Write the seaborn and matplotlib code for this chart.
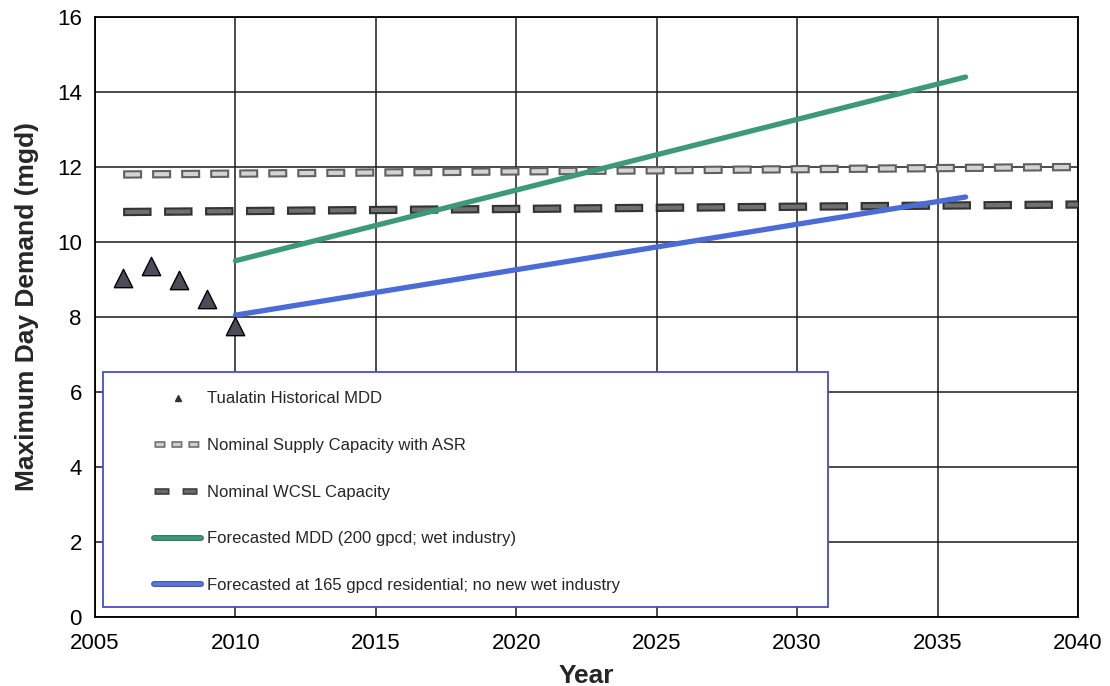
import numpy as np
import pandas as pd
import seaborn as sns
import matplotlib.pyplot as plt
from matplotlib.patches import Rectangle
from matplotlib.lines import Line2D

# historical max day demand
hist_years = [2006, 2007, 2008, 2009, 2010]
hist_mdd = [9.04, 9.36, 8.99, 8.49, 7.77]

# capacity lines (start / end)
cap_years = [2006, 2040]
asr_capacity = [11.8, 12.0]
wcsl_capacity = [10.8, 11.0]

# forecasts (start / end)
fc_years = [2010, 2036]
fc_wet = [9.5, 14.4]
fc_165 = [8.05, 11.2]

sns.set_style("white")
plt.rcParams['font.family'] = ['Liberation Sans', 'DejaVu Sans']

fig = plt.figure(figsize=(11.1, 6.86), dpi=100)
ax = fig.add_axes([0.0856, 0.1006, 0.8855, 0.8746])

ax.set_xlim(2005, 2040)
ax.set_ylim(0, 16)
ax.set_xticks(range(2005, 2041, 5))
ax.set_yticks(range(0, 17, 2))
ax.grid(True, color="#1a1a1a", lw=1.1)
ax.set_axisbelow(True)
for s in ax.spines.values():
    s.set_color("black")
    s.set_linewidth(1.3)


def dash_style(dash, gap, lw, m=0.0):
    # dash pattern given in points, shifted inwards by m
    period = dash + gap
    return (((period - m) % period) / lw, [(dash - 2 * m) / lw, (gap + 2 * m) / lw])


def outlined_dash(df, outer, inner, dash, gap, lw_out=6.0, lw_in=3.0, m=1.5):
    # outer dark dash with a lighter inner dash on top
    sns.lineplot(data=df, x="year", y="val", ax=ax, color=outer, lw=lw_out, zorder=3)
    lo = ax.lines[-1]
    lo.set_linestyle(dash_style(dash, gap, lw_out))
    lo.set_dash_capstyle("butt")
    sns.lineplot(data=df, x="year", y="val", ax=ax, color=inner, lw=lw_in, zorder=4)
    li = ax.lines[-1]
    li.set_linestyle(dash_style(dash, gap, lw_in, m))
    li.set_dash_capstyle("butt")


asr_df = pd.DataFrame({"year": cap_years, "val": asr_capacity})
outlined_dash(asr_df, "#606060", "#d4d4d4", 13.7, 7.2)

wcsl_df = pd.DataFrame({"year": cap_years, "val": wcsl_capacity})
outlined_dash(wcsl_df, "#333333", "#707070", 20.5, 9.0)

sns.lineplot(x=fc_years, y=fc_wet, ax=ax, color="#3c9a78", lw=3.8, zorder=5,
             solid_capstyle="round")
sns.lineplot(x=fc_years, y=fc_165, ax=ax, color="#4b6bd6", lw=3.8, zorder=5,
             solid_capstyle="round")

sns.scatterplot(x=hist_years, y=hist_mdd, ax=ax, marker="^", s=175,
                color="#4c4c58", edgecolor="black", linewidth=1.0, zorder=6)

ax.tick_params(axis="both", labelsize=16, colors="black", direction="inout",
               length=7, width=1.0)
ax.tick_params(axis="x", pad=8)
ax.tick_params(axis="y", pad=6)
ax.set_xlabel("Year", fontsize=19, fontweight="bold", labelpad=7)
ax.set_ylabel("Maximum Day Demand (mgd)", fontsize=19, fontweight="bold")
ax.yaxis.set_label_coords(-0.057, 0.518)

# legend box
box = Rectangle((0.008, 0.017), 0.738, 0.391, transform=ax.transAxes,
                facecolor="white", edgecolor="#4a4ad0", lw=1.3, zorder=7)
ax.add_patch(box)


def leg_dash(outer, inner, dash, gap, lw_out=4.8, lw_in=2.4, m=1.2):
    lo = Line2D([], [], color=outer, lw=lw_out, ls=dash_style(dash, gap, lw_out),
                dash_capstyle="butt")
    li = Line2D([], [], color=inner, lw=lw_in, ls=dash_style(dash, gap, lw_in, m),
                dash_capstyle="butt")
    return (lo, li)


handles = [
    Line2D([], [], ls="none", marker="^", color="#303030", markersize=5),
    leg_dash("#707070", "#d0d0d0", 7.9, 4.3),
    leg_dash("#404040", "#6a6a6a", 10.8, 9.4),
    (Line2D([], [], color="#2f6f58", lw=4.2), Line2D([], [], color="#3c9a78", lw=2.6)),
    (Line2D([], [], color="#3a50a8", lw=4.2), Line2D([], [], color="#5b78dc", lw=2.6)),
]
labels = [
    "Tualatin Historical MDD",
    "Nominal Supply Capacity with ASR",
    "Nominal WCSL Capacity",
    "Forecasted MDD (200 gpcd; wet industry)",
    "Forecasted at 165 gpcd residential; no new wet industry",
]
leg = ax.legend(handles, labels, loc="upper left", bbox_to_anchor=(0.0535, 0.387),
                frameon=False, handlelength=2.8, handletextpad=0.36,
                labelspacing=1.9, borderaxespad=0, fontsize=12)
leg.set_zorder(8)

fig.savefig("out.png", dpi=100)
